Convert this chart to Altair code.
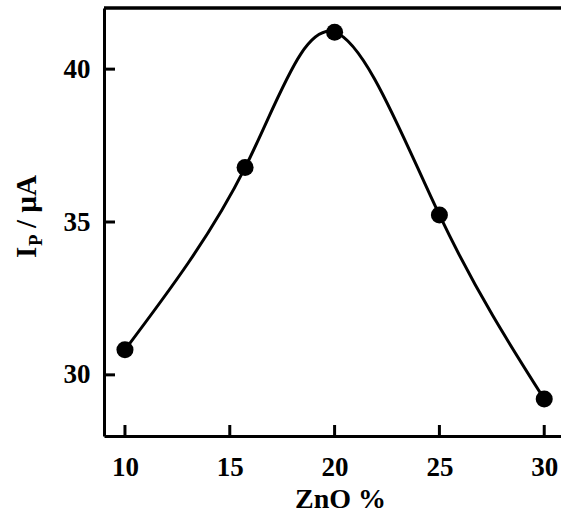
import altair as alt
import pandas as pd

# data
zno = [10, 15.73, 20, 25, 30]
ip = [30.82, 36.78, 41.21, 35.23, 29.21]
x_ticks = [10, 15, 20, 25, 30]
y_ticks = [30, 35, 40]

W, H = 457, 428
FONT = "Liberation Serif"

df = pd.DataFrame({"ZnO": zno, "Ip": ip})
xt = pd.DataFrame({"t": x_ticks})
yt = pd.DataFrame({"t": y_ticks})

xs = alt.Scale(domain=[9, 30.8], nice=False, zero=False)
ys = alt.Scale(domain=[28, 42], nice=False, zero=False)

xaxis = alt.Axis(values=x_ticks, title="ZnO %", titleX=236, ticks=False, tickSize=0,
                 labelPadding=18, titlePadding=5, grid=False)
yaxis = alt.Axis(values=y_ticks, title=None, ticks=False, tickSize=0,
                 labelPadding=14, grid=False)

line = alt.Chart(df).mark_line(interpolate="natural", color="black", strokeWidth=3).encode(
    x=alt.X("ZnO:Q", scale=xs, axis=xaxis),
    y=alt.Y("Ip:Q", scale=ys, axis=yaxis),
)
pts = alt.Chart(df).mark_circle(color="black", opacity=1, size=290).encode(
    x=alt.X("ZnO:Q", scale=xs),
    y=alt.Y("Ip:Q", scale=ys),
)
xtick = alt.Chart(xt).mark_rule(color="black", strokeWidth=3).encode(
    x=alt.X("t:Q", scale=xs), y=alt.value(H), y2=alt.value(H - 11)
)
ytick = alt.Chart(yt).mark_rule(color="black", strokeWidth=3).encode(
    y=alt.Y("t:Q", scale=ys), x=alt.value(0), x2=alt.value(11)
)
one = alt.Data(values=[{"a": 1}])
top = alt.Chart(one).mark_rule(color="black", strokeWidth=3.5).encode(
    x=alt.value(0), x2=alt.value(W), y=alt.value(0)
)
t1 = alt.Chart(one).mark_text(text="I", font=FONT, fontWeight="bold", fontSize=29, angle=270,
                              align="left", baseline="alphabetic", color="black").encode(
    x=alt.value(-68), y=alt.value(250))
t2 = alt.Chart(one).mark_text(text="P", font=FONT, fontWeight="bold", fontSize=19, angle=270,
                              align="left", baseline="alphabetic", color="black").encode(
    x=alt.value(-62), y=alt.value(238))
t3 = alt.Chart(one).mark_text(text="\u00a0/\u00a0µA", font=FONT, fontWeight="bold", fontSize=29,
                              angle=270, align="left", baseline="alphabetic", color="black").encode(
    x=alt.value(-68), y=alt.value(220))

chart = alt.layer(line, xtick, ytick, top, pts, t1, t2, t3).properties(
    width=W, height=H,
    autosize=alt.AutoSizeParams(type="none"),
    padding={"left": 104, "top": 8, "right": 0, "bottom": 83},
).configure_view(stroke=None).configure_axis(
    domainColor="black", domainWidth=3,
    labelFont=FONT, labelFontWeight="bold", labelFontSize=27, labelColor="black",
    titleFont=FONT, titleFontWeight="bold", titleFontSize=28, titleColor="black",
)

chart.save("out.html", embed_options={"renderer": "svg", "actions": False})
